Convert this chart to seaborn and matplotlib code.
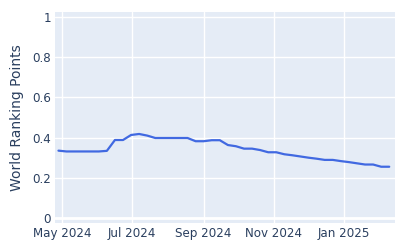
import matplotlib
matplotlib.use("Agg")
import matplotlib.pyplot as plt
import matplotlib.dates as mdates
import seaborn as sns
import pandas as pd
import numpy as np

start_date = "2024-04-28"
points = [0.335, 0.331, 0.331, 0.331, 0.331, 0.331, 0.334, 0.388, 0.388, 0.413,
          0.418, 0.410, 0.398, 0.398, 0.398, 0.398, 0.398, 0.382, 0.382, 0.387,
          0.387, 0.363, 0.357, 0.345, 0.345, 0.338, 0.327, 0.327, 0.317, 0.312,
          0.306, 0.300, 0.295, 0.289, 0.289, 0.283, 0.278, 0.272, 0.266, 0.266,
          0.255, 0.255]
dates = pd.date_range(start_date, periods=len(points), freq="7D")
tick_dates = ["2024-05-01", "2024-07-01", "2024-09-01", "2024-11-01", "2025-01-01"]
tick_labels = ["May 2024", "Jul 2024", "Sep 2024", "Nov 2024", "Jan 2025"]
y_ticks = [0, 0.2, 0.4, 0.6, 0.8, 1]
y_labels = ["0", "0.2", "0.4", "0.6", "0.8", "1"]

df = pd.DataFrame({"date": dates, "points": points})

sns.set_style("darkgrid")
plt.rcParams["font.family"] = ["DejaVu Sans"]
text_color = "#2a3f5f"

fig = plt.figure(figsize=(4, 2.5), dpi=100)
ax = fig.add_axes([0.1375, 0.108, 0.85, 0.844])
ax.set_facecolor("#E5ECF6")
sns.lineplot(data=df, x="date", y="points", ax=ax, color="#4169E1", linewidth=1.6)

ax.set_xlim(pd.Timestamp("2024-04-25"), pd.Timestamp("2025-02-14"))
ax.set_ylim(-0.025, 1.025)
ax.set_xticks(pd.to_datetime(tick_dates))
ax.set_xticklabels(tick_labels)
ax.set_yticks(y_ticks)
ax.set_yticklabels(y_labels)
ax.grid(True, color="white", linewidth=1)
ax.axhline(0, color="white", linewidth=2, zorder=1)
for s in ax.spines.values():
    s.set_visible(False)
ax.tick_params(axis="both", length=0, labelsize=8.6, colors=text_color, pad=3)
ax.set_xlabel("")
ax.set_ylabel("World Ranking Points", fontsize=10, color=text_color, labelpad=6)

fig.savefig("out.png", dpi=100)
